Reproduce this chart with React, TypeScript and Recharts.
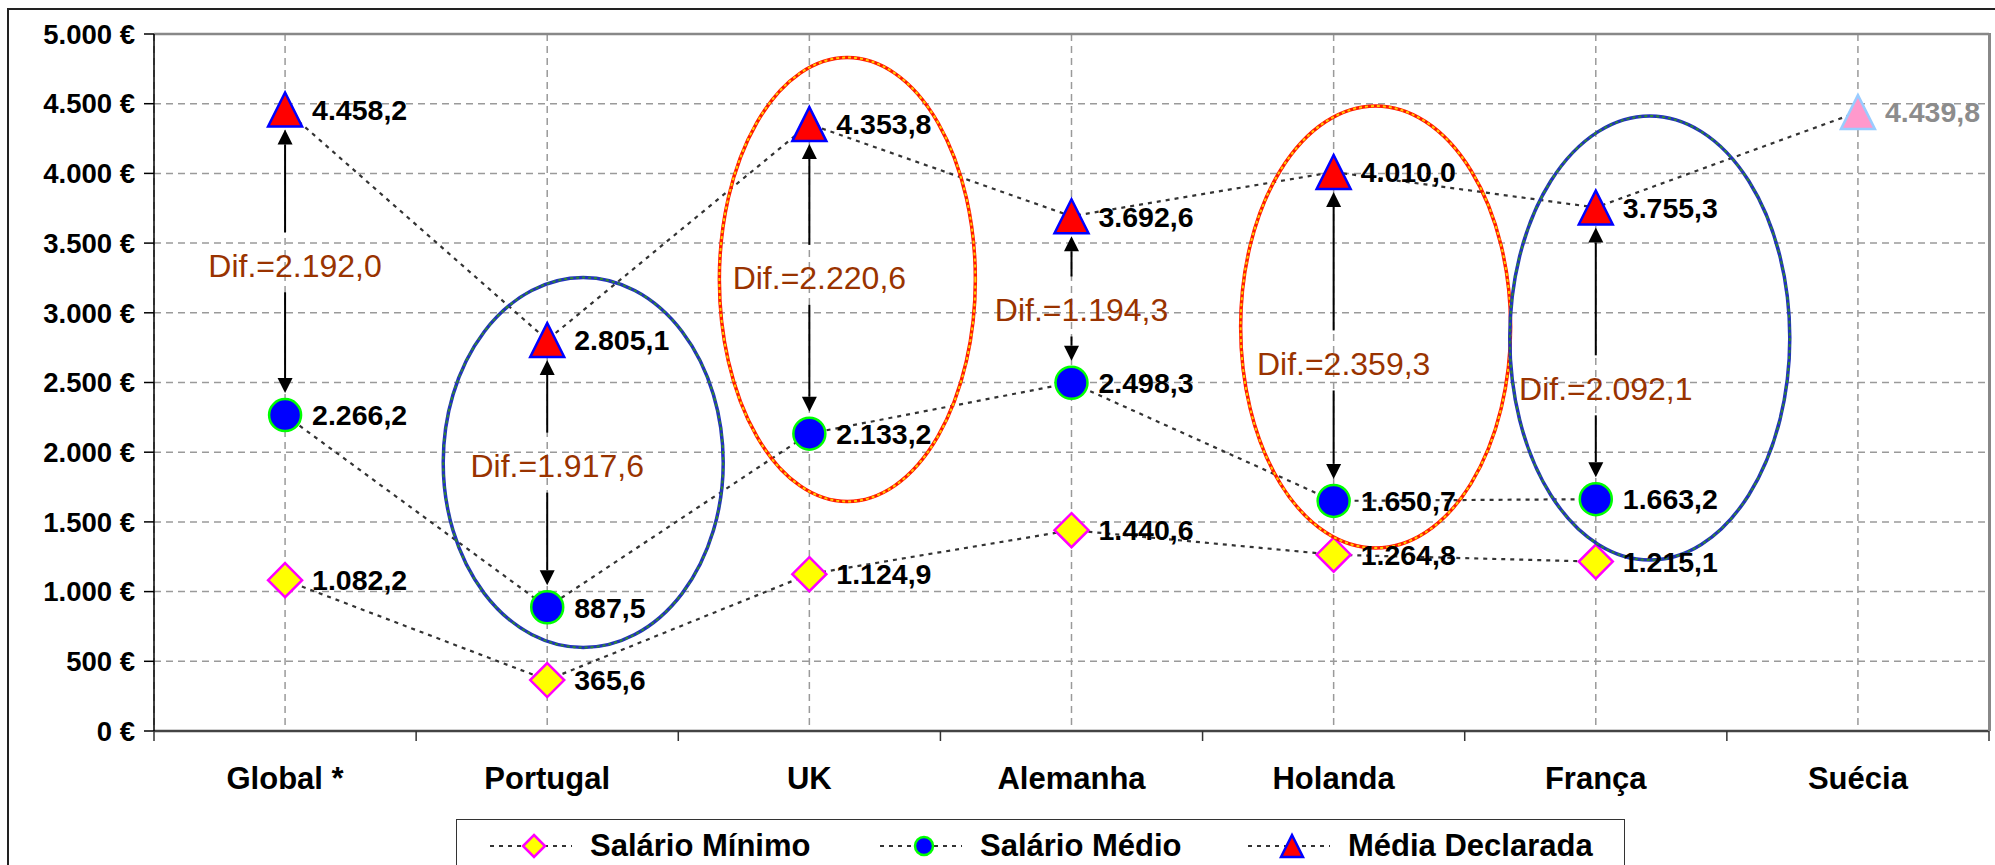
import React from "react";
import {
  ComposedChart,
  Line,
  XAxis,
  YAxis,
  CartesianGrid,
  LabelList,
  ReferenceLine,
  ReferenceDot,
} from "recharts";

const paises = ["Global *", "Portugal", "UK", "Alemanha", "Holanda", "França", "Suécia"];
const salarioMinimo = [1082.2, 365.6, 1124.9, 1440.6, 1264.8, 1215.1, null];
const salarioMedio = [2266.2, 887.5, 2133.2, 2498.3, 1650.7, 1663.2, null];
const mediaDeclarada = [4458.2, 2805.1, 4353.8, 3692.6, 4010.0, 3755.3, 4439.8];
const yTicks = [0, 500, 1000, 1500, 2000, 2500, 3000, 3500, 4000, 4500, 5000];

const data = paises.map((pais, i) => ({
  pais,
  minimo: salarioMinimo[i],
  medio: salarioMedio[i],
  declarada: mediaDeclarada[i],
}));

// chart geometry
const W = 1995;
const H = 865;
const PLOT_L = 154;
const PLOT_T = 34;
const PLOT_R = 1989;
const PLOT_B = 731;
const BAND = (PLOT_R - PLOT_L) / paises.length;
const FONT = '"Liberation Sans", Arial, Helvetica, sans-serif';

// vertical nudge (px) of each "Dif." caption from the midpoint of its arrow
const difShift = [3, -8, -1, 10, 27, 35];

// highlight ellipses: centred on a category/value, offset and sized in px
const destaques = [
  { pais: "Portugal", valor: 1926, dx: 36, rx: 140, ry: 185, tipo: "azul" },
  { pais: "UK", valor: 3239, dx: 38, rx: 128, ry: 222, tipo: "laranja" },
  { pais: "Holanda", valor: 2898, dx: 42, rx: 135, ry: 221, tipo: "laranja" },
  { pais: "França", valor: 2819, dx: 54, rx: 140, ry: 222, tipo: "azul" },
];

const fmt = (v: number) => {
  const [i, d] = v.toFixed(1).split(".");
  return i.replace(/\B(?=(\d{3})+(?!\d))/g, ".") + "," + d;
};
const fmtEuro = (v: number) => `${String(v).replace(/\B(?=(\d{3})+(?!\d))/g, ".")} €`;

const Diamond = ({ cx, cy, s = 17 }: any) => (
  <polygon
    points={`${cx},${cy - s} ${cx + s},${cy} ${cx},${cy + s} ${cx - s},${cy}`}
    fill="#ffff00"
    stroke="#ff00ff"
    strokeWidth={2.5}
  />
);
const Circle = ({ cx, cy, r = 16 }: any) => (
  <circle cx={cx} cy={cy} r={r} fill="#0000ff" stroke="#00ff00" strokeWidth={2.5} />
);
const Triangle = ({ cx, cy, s = 17, fill = "#ff0000", stroke = "#0000ff" }: any) => (
  <polygon
    points={`${cx},${cy - s} ${cx + s},${cy + s} ${cx - s},${cy + s}`}
    fill={fill}
    stroke={stroke}
    strokeWidth={2.5}
    strokeLinejoin="miter"
  />
);

const dotMinimo = (p: any) =>
  p.cx == null || p.cy == null || p.value == null ? <g key={p.key} /> : <Diamond key={p.key} cx={p.cx} cy={p.cy} />;
const dotMedio = (p: any) =>
  p.cx == null || p.cy == null || p.value == null ? <g key={p.key} /> : <Circle key={p.key} cx={p.cx} cy={p.cy} />;
const dotDeclarada = (p: any) => {
  if (p.cx == null || p.cy == null) return <g key={p.key} />;
  const sueca = p.payload?.pais === "Suécia";
  return sueca ? (
    <Triangle key={p.key} cx={p.cx} cy={p.cy} fill="#ff99cc" stroke="#99ccff" />
  ) : (
    <Triangle key={p.key} cx={p.cx} cy={p.cy} />
  );
};

const valueLabel = (p: any) => {
  if (p.value == null) return null;
  const sueca = p.index === paises.length - 1;
  return (
    <text
      x={p.x + 27}
      y={p.y}
      dy="0.36em"
      fontFamily={FONT}
      fontSize={28.5}
      fontWeight="bold"
      fill={sueca ? "#8c8c8c" : "#000"}
    >
      {fmt(p.value)}
    </text>
  );
};

const CategoryTick = ({ x, y, payload, index }: any) => (
  <g>
    <line x1={x - BAND / 2} y1={y} x2={x - BAND / 2} y2={y + 10} stroke="#333" strokeWidth={1.5} />
    {index === paises.length - 1 && (
      <line x1={x + BAND / 2} y1={y} x2={x + BAND / 2} y2={y + 10} stroke="#333" strokeWidth={1.5} />
    )}
    <text x={x} y={y + 58} textAnchor="middle" fontFamily={FONT} fontSize={31} fontWeight="bold" fill="#000">
      {payload.value}
    </text>
  </g>
);

const Arrow = ({ x, from, to }: { x: number; from: number; to: number }) => {
  const dir = to > from ? 1 : -1;
  const head = 15;
  return (
    <g>
      <line x1={x} y1={from} x2={x} y2={to - dir * head} stroke="#000" strokeWidth={2} />
      <polygon points={`${x},${to} ${x - 7.5},${to - dir * head} ${x + 7.5},${to - dir * head}`} fill="#000" />
    </g>
  );
};

const difShape = (i: number, dif: number) => (p: any) => {
  const x = p.x1;
  const top = Math.min(p.y1, p.y2);
  const bottom = Math.max(p.y1, p.y2);
  const mid = (top + bottom) / 2 + difShift[i];
  return (
    <g>
      <Arrow x={x} from={mid - 33} to={top + 20} />
      <Arrow x={x} from={mid + 27} to={bottom - 22} />
      <text
        x={x + 10}
        y={mid}
        dy="0.36em"
        textAnchor="middle"
        fontFamily={FONT}
        fontSize={32}
        fill="#993300"
      >
        {`Dif.=${fmt(dif)}`}
      </text>
    </g>
  );
};

const ellipseShape = (d: (typeof destaques)[number]) => (p: any) => {
  const [base, over] = d.tipo === "azul" ? ["#2233bb", "#2e8b2e"] : ["#ff1a00", "#ffcc00"];
  return (
    <g>
      <ellipse cx={p.cx + d.dx} cy={p.cy} rx={d.rx} ry={d.ry} fill="none" stroke={base} strokeWidth={3.5} />
      <ellipse
        cx={p.cx + d.dx}
        cy={p.cy}
        rx={d.rx}
        ry={d.ry}
        fill="none"
        stroke={over}
        strokeWidth={2}
        strokeDasharray="3 3"
      />
    </g>
  );
};

const LegendIcon = ({ kind }: { kind: string }) => (
  <svg width={82} height={30} style={{ display: "block" }}>
    <line x1={0} y1={15} x2={82} y2={15} stroke="#333" strokeWidth={2} strokeDasharray="4 5" />
    {kind === "min" && <Diamond cx={44} cy={15} s={11} />}
    {kind === "med" && <Circle cx={44} cy={15} r={9} />}
    {kind === "dec" && <Triangle cx={44} cy={15} s={11} />}
  </svg>
);

const legendItems = [
  { kind: "min", label: "Salário Mínimo", left: 33 },
  { kind: "med", label: "Salário Médio", left: 423 },
  { kind: "dec", label: "Média Declarada", left: 791 },
];

export default function App() {
  return (
    <div
      style={{
        position: "relative",
        width: W,
        height: H,
        overflow: "hidden",
        background: "#fff",
        fontFamily: FONT,
      }}
    >
      <style>{"body{margin:0;overflow:hidden}"}</style>
      <div
        style={{
          position: "absolute",
          left: 7,
          top: 8,
          width: 2200,
          height: 1200,
          borderTop: "2px solid #222",
          borderLeft: "2px solid #222",
        }}
      />
      <div style={{ position: "absolute", left: 0, top: 0 }}>
        <ComposedChart
          width={W}
          height={H}
          data={data}
          margin={{ top: PLOT_T, right: W - PLOT_R, left: PLOT_L - 140, bottom: H - PLOT_B - 60 }}
        >
          <CartesianGrid stroke="#9a9a9a" strokeDasharray="7 5" strokeWidth={1.5} />
          <XAxis
            dataKey="pais"
            scale="band"
            height={60}
            tickLine={false}
            tickSize={0}
            tickMargin={0}
            interval={0}
            axisLine={{ stroke: "#444", strokeWidth: 2.5 }}
            tick={<CategoryTick />}
          />
          <YAxis
            width={140}
            domain={[0, 5000]}
            ticks={yTicks}
            interval={0}
            tickFormatter={fmtEuro}
            tickSize={10}
            tickMargin={9}
            axisLine={{ stroke: "#000", strokeWidth: 1.5 }}
            tickLine={{ stroke: "#000", strokeWidth: 1.5 }}
            tick={{ fill: "#000", fontSize: 27.5, fontWeight: "bold", fontFamily: FONT }}
          />
          <ReferenceLine y={5000} stroke="#888" strokeWidth={2.5} />
          {paises.slice(0, 6).map((pais, i) => (
            <ReferenceLine
              key={pais}
              ifOverflow="visible"
              segment={[
                { x: pais, y: salarioMedio[i] as number },
                { x: pais, y: mediaDeclarada[i] },
              ]}
              shape={difShape(i, mediaDeclarada[i] - (salarioMedio[i] as number))}
            />
          ))}
          <Line
            dataKey="minimo"
            type="linear"
            stroke="#333"
            strokeWidth={2.2}
            strokeDasharray="4 5"
            dot={dotMinimo}
            activeDot={false}
            isAnimationActive={false}
          >
            <LabelList dataKey="minimo" content={valueLabel} />
          </Line>
          <Line
            dataKey="medio"
            type="linear"
            stroke="#333"
            strokeWidth={2.2}
            strokeDasharray="4 5"
            dot={dotMedio}
            activeDot={false}
            isAnimationActive={false}
          >
            <LabelList dataKey="medio" content={valueLabel} />
          </Line>
          <Line
            dataKey="declarada"
            type="linear"
            stroke="#333"
            strokeWidth={2.2}
            strokeDasharray="4 5"
            dot={dotDeclarada}
            activeDot={false}
            isAnimationActive={false}
          >
            <LabelList dataKey="declarada" content={valueLabel} />
          </Line>
          {destaques.map((d) => (
            <ReferenceDot
              key={d.pais}
              x={d.pais}
              y={d.valor}
              ifOverflow="visible"
              shape={ellipseShape(d)}
            />
          ))}
        </ComposedChart>
      </div>
      {/* right edge of the plot frame */}
      <div
        style={{
          position: "absolute",
          left: PLOT_R - 1,
          top: PLOT_T - 1,
          width: 2.5,
          height: PLOT_B - PLOT_T + 1,
          background: "#888",
        }}
      />
      <div
        style={{
          position: "absolute",
          left: 456,
          top: 819,
          width: 1169,
          height: 70,
          border: "1.5px solid #333",
          background: "#fff",
          boxSizing: "border-box",
        }}
      >
        {legendItems.map((it) => (
          <div
            key={it.kind}
            style={{ position: "absolute", left: it.left, top: 11, display: "flex", alignItems: "center" }}
          >
            <LegendIcon kind={it.kind} />
            <span
              style={{
                marginLeft: 18,
                fontSize: 31,
                fontWeight: "bold",
                color: "#000",
                whiteSpace: "nowrap",
                lineHeight: "30px",
              }}
            >
              {it.label}
            </span>
          </div>
        ))}
      </div>
    </div>
  );
}
